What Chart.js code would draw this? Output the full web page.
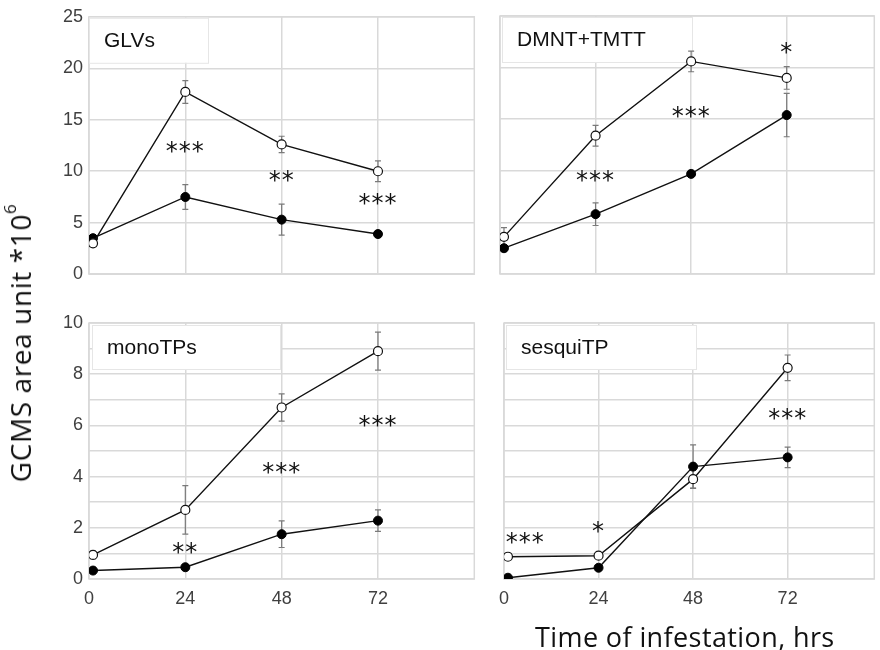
<!DOCTYPE html>
<html>
<head>
<meta charset="utf-8">
<script src="https://cdn.jsdelivr.net/npm/chart.js@4"></script>
<style>
  html, body { margin:0; padding:0; background:#fff; }
  #wrap { position:relative; width:880px; height:650px; overflow:hidden; font-family:"Open Sans", sans-serif; color:#111; }
  #wrap canvas { position:absolute; }
  #ytitle { position:absolute; left:20px; top:343px; transform:translate(-50%,-50%) rotate(-90deg); white-space:nowrap; font-size:28px; letter-spacing:0.6px; }
  #ytitle sup { font-size:17px; vertical-align:top; position:relative; top:-3px; }
  #xtitle { position:absolute; left:535px; top:618px; white-space:nowrap; font-size:27px; letter-spacing:0.4px; }
</style>
</head>
<body>
<div id="wrap">
  <canvas id="c-glv"></canvas>
  <canvas id="c-dmnt"></canvas>
  <canvas id="c-mono"></canvas>
  <canvas id="c-sesq"></canvas>
  <div id="ytitle">GCMS area unit *10<sup>6</sup></div>
  <div id="xtitle">Time of infestation, hrs</div>
</div>
<script>
/* ── Dados ────────────────────────────────────────────────── */
const hours = [1, 24, 48, 72];

const glvOpen      = [3.0, 17.7, 12.6, 10.0];
const glvOpenErr   = [0.3, 1.1, 0.8, 1.0];
const glvFilled    = [3.5, 7.5, 5.3, 3.9];
const glvFilledErr = [0.3, 1.2, 1.5, 0.2];
const glvStars     = ['***', '**', '***'];
const glvStarX     = [24, 48, 72];
const glvStarY     = [12.2, 9.4, 7.1];

const dmntOpen      = [3.6, 13.4, 20.6, 19.0];
const dmntOpenErr   = [0.9, 1.0, 1.0, 1.1];
const dmntFilled    = [2.5, 5.8, 9.7, 15.4];
const dmntFilledErr = [0.2, 1.1, 0.2, 2.1];
const dmntStars     = ['***', '***', '*'];
const dmntStarX     = [24, 48, 72];
const dmntStarY     = [9.3, 15.5, 21.7];

const monoOpen      = [0.94, 2.7, 6.7, 8.9];
const monoOpenErr   = [0.15, 0.95, 0.53, 0.74];
const monoFilled    = [0.33, 0.46, 1.75, 2.28];
const monoFilledErr = [0.05, 0.05, 0.52, 0.42];
const monoStars     = ['**', '***', '***'];
const monoStarX     = [24, 48, 72];
const monoStarY     = [1.16, 4.26, 6.1];

const sesqOpen      = [0.87, 0.91, 3.9, 8.25];
const sesqOpenErr   = [0.05, 0.05, 0.35, 0.5];
const sesqFilled    = [0.05, 0.44, 4.39, 4.75];
const sesqFilledErr = [0.03, 0.05, 0.85, 0.4];
const sesqStars     = ['***', '*', '***'];
const sesqStarX     = [5.4, 24, 72];
const sesqStarY     = [1.52, 1.95, 6.37];

const xTicks = [0, 24, 48, 72];

const GRID = '#d9d9d9';
const TICK = '#404040';
const FONT = '"Liberation Sans", Arial, sans-serif';

const pts = (xs, ys) => xs.map((x, i) => ({ x, y: ys[i] }));

// ── Plugin: moldura, caixa do título, barras de erro, asteriscos ──
const painelPlugin = {
  id: 'painel',
  beforeDatasetsDraw(chart) {
    const { ctx, chartArea: a } = chart;
    const o = chart.options.plugins.painel;
    ctx.save();
    // moldura
    ctx.strokeStyle = GRID; ctx.lineWidth = 1.5;
    ctx.strokeRect(a.left, a.top, a.right - a.left, a.bottom - a.top);
    // caixa do rótulo
    ctx.fillStyle = '#fff'; ctx.strokeStyle = '#e6e6e6'; ctx.lineWidth = 1;
    ctx.fillRect(a.left + o.box[0], a.top + o.box[1], o.box[2], o.box[3]);
    ctx.strokeRect(a.left + o.box[0] + 0.5, a.top + o.box[1] + 0.5, o.box[2], o.box[3]);
    ctx.fillStyle = '#111'; ctx.font = '21px ' + FONT; ctx.textBaseline = 'middle';
    ctx.fillText(o.titulo, a.left + o.box[0] + 15, a.top + o.box[1] + o.box[3] / 2 + 1);
    // barras de erro
    const xs = chart.scales.x, ys = chart.scales.y;
    ctx.strokeStyle = '#7a7a7a'; ctx.lineWidth = 1.2;
    chart.data.datasets.forEach(ds => {
      ds.data.forEach((p, i) => {
        const e = ds.err[i]; if (!e) return;
        const px = xs.getPixelForValue(p.x);
        const y1 = ys.getPixelForValue(p.y + e), y2 = ys.getPixelForValue(p.y - e);
        ctx.beginPath();
        ctx.moveTo(px, y1); ctx.lineTo(px, y2);
        ctx.moveTo(px - 3, y1); ctx.lineTo(px + 3, y1);
        ctx.moveTo(px - 3, y2); ctx.lineTo(px + 3, y2);
        ctx.stroke();
      });
    });
    ctx.restore();
  },
  afterDraw(chart) {
    const { ctx } = chart;
    const o = chart.options.plugins.painel;
    const xs = chart.scales.x, ys = chart.scales.y;
    ctx.save();
    ctx.fillStyle = '#111'; ctx.font = '24px "DejaVu Sans", sans-serif';
    ctx.textAlign = 'center'; ctx.textBaseline = 'middle';
    if ('letterSpacing' in ctx) ctx.letterSpacing = '1px';
    o.stars.forEach((s, i) => {
      ctx.fillText(s, xs.getPixelForValue(o.starX[i]), ys.getPixelForValue(o.starY[i]) + 4);
    });
    ctx.restore();
  }
};

function criarPainel(id, pos, cfg) {
  const cv = document.getElementById(id);
  cv.style.left = pos.left + 'px'; cv.style.top = pos.top + 'px';
  cv.width = pos.w; cv.height = pos.h;
  cv.style.width = pos.w + 'px'; cv.style.height = pos.h + 'px';
  return new Chart(cv, {
    type: 'line',
    data: { datasets: [
      { data: pts(hours, cfg.open), err: cfg.openErr, borderColor:'#111', borderWidth:1.4,
        pointBackgroundColor:'#fff', pointBorderColor:'#111', pointBorderWidth:1.2, pointRadius:4.5, tension:0 },
      { data: pts(hours, cfg.filled), err: cfg.filledErr, borderColor:'#111', borderWidth:1.4,
        pointBackgroundColor:'#000', pointBorderColor:'#000', pointBorderWidth:1, pointRadius:4.5, tension:0 },
    ]},
    options: {
      responsive:false, animation:false, events:[],
      layout:{ padding:{ top:pos.pt, bottom:0, left:0, right:pos.pr } },
      plugins:{ legend:{display:false}, tooltip:{enabled:false},
        painel:{ titulo:cfg.titulo, box:cfg.box, stars:cfg.stars, starX:cfg.starX, starY:cfg.starY } },
      scales:{
        x:{ type:'linear', min:0, max:pos.xmax,
            afterBuildTicks: s => { s.ticks = xTicks.map(v => ({ value:v })); },
            afterFit: s => { s.height = pos.xh; },
            grid:{ color:GRID, lineWidth:1.5, drawTicks:false }, border:{ display:false },
            ticks:{ display:pos.xlabels, color:TICK, padding:9, font:{ family:FONT, size:18 } } },
        y:{ min:0, max:cfg.ymax,
            ticks:{ stepSize:cfg.step, display:pos.ylabels, color:TICK, padding:6, font:{ family:FONT, size:18 },
                    callback: v => (v % cfg.labelStep === 0 ? v : '') },
            afterFit: s => { s.width = pos.yw; },
            grid:{ color:GRID, lineWidth:1.5, drawTicks:false }, border:{ display:false } }
      }
    },
    plugins:[painelPlugin]
  });
}

// ── Painéis ─────────────────────────────────────────────────
criarPainel('c-glv',  { left:0,   top:0,   w:480, h:291, pt:16, pr:1, yw:89, xh:12, xmax:96, xlabels:false, ylabels:true },
  { titulo:'GLVs', box:[0,1,119,45], open:glvOpen, openErr:glvOpenErr, filled:glvFilled, filledErr:glvFilledErr,
    stars:glvStars, starX:glvStarX, starY:glvStarY, ymax:25, step:5, labelStep:5 });

criarPainel('c-dmnt', { left:490, top:0,   w:390, h:286, pt:16, pr:0, yw:10, xh:12, xmax:94, xlabels:false, ylabels:false },
  { titulo:'DMNT+TMTT', box:[2,1,190,45], open:dmntOpen, openErr:dmntOpenErr, filled:dmntFilled, filledErr:dmntFilledErr,
    stars:dmntStars, starX:dmntStarX, starY:dmntStarY, ymax:25, step:5, labelStep:5 });

criarPainel('c-mono', { left:0,   top:300, w:480, h:320, pt:23, pr:1, yw:89, xh:41, xmax:96, xlabels:true, ylabels:true },
  { titulo:'monoTPs', box:[3,2,188,44], open:monoOpen, openErr:monoOpenErr, filled:monoFilled, filledErr:monoFilledErr,
    stars:monoStars, starX:monoStarX, starY:monoStarY, ymax:10, step:1, labelStep:2 });

criarPainel('c-sesq', { left:490, top:300, w:390, h:320, pt:23, pr:0, yw:10, xh:41, xmax:94, xlabels:true, ylabels:false },
  { titulo:'sesquiTP', box:[2,2,190,44], open:sesqOpen, openErr:sesqOpenErr, filled:sesqFilled, filledErr:sesqFilledErr,
    stars:sesqStars, starX:sesqStarX, starY:sesqStarY, ymax:10, step:1, labelStep:2 });
</script>
</body>
</html>
